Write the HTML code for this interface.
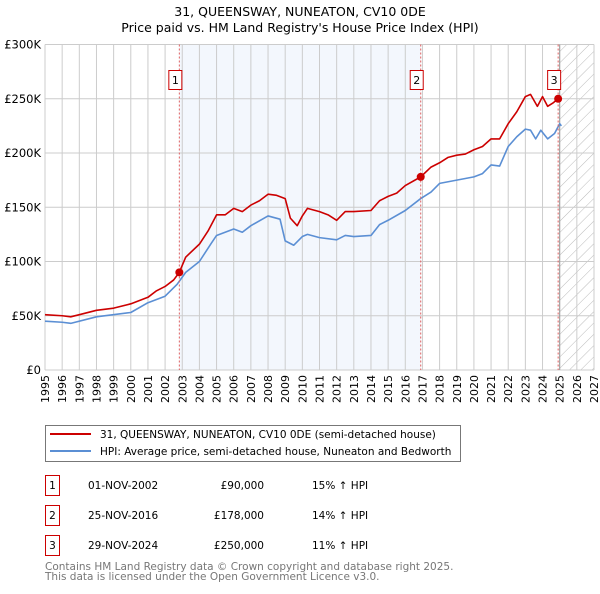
<!DOCTYPE html>
<html><head><meta charset="utf-8"><style>
body{margin:0;background:#fff;width:600px;height:590px;overflow:hidden;font-family:"DejaVu Sans","Liberation Sans",sans-serif;}
svg text{font-family:"DejaVu Sans","Liberation Sans",sans-serif;}
</style></head><body>
<svg id="chart" width="600" height="590" xmlns="http://www.w3.org/2000/svg">
<defs><pattern id="hatch" width="8" height="8" patternUnits="userSpaceOnUse" patternTransform="rotate(45)"><rect width="8" height="8" fill="#fff"/><line x1="0" y1="0" x2="0" y2="8" stroke="#bbb" stroke-width="1"/></pattern></defs>
<text x="300" y="16" text-anchor="middle" font-size="12.5">31, QUEENSWAY, NUNEATON, CV10 0DE</text>
<text x="300" y="32" text-anchor="middle" font-size="12.5">Price paid vs. HM Land Registry's House Price Index (HPI)</text>
<g id="bg"></g><g id="grid"></g><g id="axes"></g><g id="series"></g><g id="marks"></g>
<rect x="45.5" y="425.5" width="415" height="36" fill="#fff" stroke="#777"/>
<line x1="50" y1="434" x2="91" y2="434" stroke="#cc0000" stroke-width="2"/>
<text x="100" y="438" font-size="10.5">31, QUEENSWAY, NUNEATON, CV10 0DE (semi-detached house)</text>
<line x1="50" y1="451" x2="91" y2="451" stroke="#5b8fd4" stroke-width="2"/>
<text x="100" y="455" font-size="10.5">HPI: Average price, semi-detached house, Nuneaton and Bedworth</text>
<g id="table" font-size="10.5"></g>
<text x="45" y="570" font-size="10.5" fill="#777">Contains HM Land Registry data © Crown copyright and database right 2025.</text>
<text x="45" y="580" font-size="10.5" fill="#777">This data is licensed under the Open Government Licence v3.0.</text>
</svg>
<script>
const yearTicks=[1995,1996,1997,1998,1999,2000,2001,2002,2003,2004,2005,2006,2007,2008,2009,2010,2011,2012,2013,2014,2015,2016,2017,2018,2019,2020,2021,2022,2023,2024,2025,2026,2027];
const priceTicks=[0,50,100,150,200,250,300];
const priceTickLabels=["£0","£50K","£100K","£150K","£200K","£250K","£300K"];
const propYears=[1995,1996,1996.5,1997,1998,1999,2000,2001,2001.5,2002,2002.5,2002.83,2003.2,2004,2004.5,2005,2005.5,2006,2006.5,2007,2007.5,2008,2008.5,2009,2009.3,2009.7,2010,2010.3,2011,2011.5,2012,2012.5,2013,2014,2014.5,2015,2015.5,2016,2016.9,2017.5,2018,2018.5,2019,2019.5,2020,2020.5,2021,2021.5,2022,2022.5,2023,2023.3,2023.7,2024,2024.3,2024.6,2024.91];
const propValues=[51,50,49,51,55,57,61,67,73,77,83,90,104,116,128,143,143,149,146,152,156,162,161,158,140,133,142,149,146,143,138,146,146,147,156,160,163,170,178,187,191,196,198,199,203,206,213,213,227,238,252,254,243,252,243,246,250];
const hpiYears=[1995,1996,1996.5,1998,2000,2001,2002,2002.7,2003.2,2004,2004.7,2005,2006,2006.5,2007,2008,2008.7,2009,2009.5,2010,2010.3,2011,2012,2012.5,2013,2014,2014.5,2015,2016,2016.9,2017.5,2018,2019,2020,2020.5,2021,2021.5,2022,2022.5,2023,2023.3,2023.6,2023.9,2024.3,2024.7,2025,2025.1];
const hpiValues=[45,44,43,49,53,62,68,79,90,100,117,124,130,127,133,142,139,119,115,123,125,122,120,124,123,124,134,138,147,158,164,172,175,178,181,189,188,206,215,222,221,213,221,213,218,227,225];
const saleYears=[2002.83,2016.9,2024.91];
const saleValues=[90,178,250];
const saleLabels=["1","2","3"];
const saleDates=["01-NOV-2002","25-NOV-2016","29-NOV-2024"];
const salePrices=["£90,000","£178,000","£250,000"];
const saleDiffs=["15% ↑ HPI","14% ↑ HPI","11% ↑ HPI"];
const NS="http://www.w3.org/2000/svg";
const X0=45,X1=594,Y0=370,Y1=44.5;
const x=v=>X0+(v-1995)/(2027-1995)*(X1-X0);
const y=v=>Y0-v/300*(Y0-Y1);
function mk(p,t,a){const e=document.createElementNS(NS,t);for(const k in a)e.setAttribute(k,a[k]);document.getElementById(p).appendChild(e);return e;}
let e;
e=mk('bg','rect',{x:x(saleYears[0]),y:Y1,width:x(saleYears[1])-x(saleYears[0]),height:Y0-Y1,fill:'#eef3fc',opacity:0.7});


e=mk('bg','rect',{x:x(2025),y:Y1,width:X1-x(2025),height:Y0-Y1,fill:'url(#hatch)'});


yearTicks.forEach(t=>{mk('grid','line',{x1:x(t),x2:x(t),y1:Y1,y2:Y0,stroke:'#ccc'});
 e=mk('axes','text',{x:0,y:0,transform:`translate(${x(t)+4},${Y0+5}) rotate(-90)`,'text-anchor':'end','font-size':'11'});e.textContent=t;
 
 });
priceTicks.forEach((t,i)=>{mk('grid','line',{x1:X0,x2:X1,y1:y(t),y2:y(t),stroke:'#ccc'});
 e=mk('axes','text',{x:X0-4,y:y(t)+4,'text-anchor':'end','font-size':'11.5'});e.textContent=priceTickLabels[i];
 
 });
mk('grid','line',{x1:x(2025),x2:x(2025),y1:Y1,y2:Y0,stroke:'#999'});
function line(xs,vs,c,n){e=mk('series','polyline',{points:xs.map((v,i)=>x(v)+','+y(vs[i])).join(' '),fill:'none',stroke:c,'stroke-width':1.6,'stroke-linejoin':'round'});
 
 }
line(hpiYears,hpiValues,'#5b8fd4','hpi-line');
line(propYears,propValues,'#cc0000','property-line');
saleYears.forEach((s,i)=>{mk('marks','line',{x1:x(s),x2:x(s),y1:Y1,y2:Y0,stroke:'#e06060','stroke-dasharray':'2,2'});
 e=mk('marks','circle',{cx:x(s),cy:y(saleValues[i]),r:4,fill:'#cc0000'});
 
 
 e=mk('marks','rect',{x:x(s)-10.5,y:70.5,width:13,height:19,fill:'#fff',stroke:'#cc0000'});
 
 
 e=mk('marks','text',{x:x(s)-4,y:84,'text-anchor':'middle','font-size':'11'});e.textContent=saleLabels[i];
 
 
 const ty=475+i*30;
 e=mk('table','rect',{x:45.5,y:ty+0.5,width:14,height:20,fill:'#fff',stroke:'#cc0000'});
 
 
 e=mk('table','text',{x:52.5,y:ty+14,'text-anchor':'middle'});e.textContent=saleLabels[i];
 e=mk('table','text',{x:88,y:ty+14});e.textContent=saleDates[i];
 
 
 e=mk('table','text',{x:264,y:ty+14,'text-anchor':'end'});e.textContent=salePrices[i];
 
 
 e=mk('table','text',{x:312,y:ty+14});e.textContent=saleDiffs[i];
 
 
});
</script>
</body></html>
